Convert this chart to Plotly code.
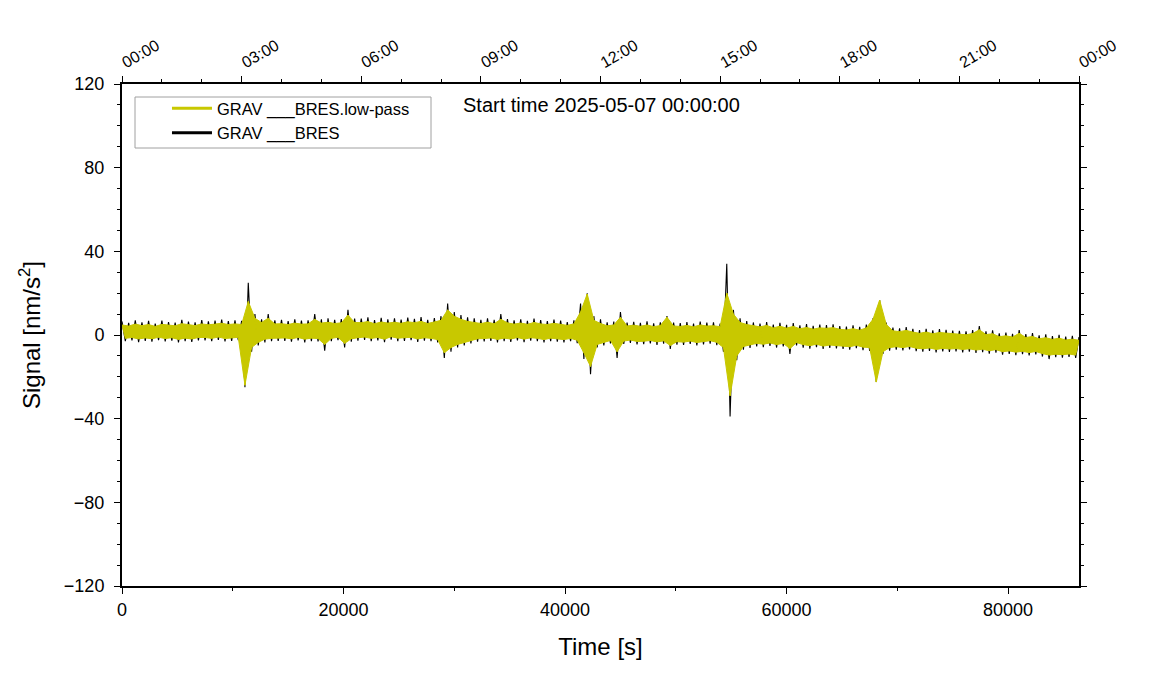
import plotly.graph_objects as go

# ---------------- data ----------------
sample_step_s = 300  # seconds between readings

# raw signal GRAV ___BRES, nm/s^2 (alternating upper / lower excursions), one row per hour
raw_bres = [
    6.5, -3.0, 5.8, -2.6, 7.0, -3.4, 6.0, -2.8, 6.8, -3.2, 5.5, -2.5,
    6.9, -3.1, 6.2, -2.7, 5.9, -3.6, 7.2, -2.9, 6.4, -3.3, 6.0, -2.6,
    7.1, -2.6, 6.5, -3.0, 6.9, -2.4, 7.4, -3.1, 6.6, -2.8, 7.0, -2.5,
    6.8, -25.0, 25.0, -8.0, 10.0, -5.0, 7.5, -3.5, 10.0, -3.0, 7.0, -2.8,
    7.2, -2.8, 6.6, -3.2, 7.5, -2.6, 6.9, -3.5, 7.0, -2.9, 10.0, -3.1,
    7.5, -7.5, 8.0, -3.0, 7.2, -2.5, 7.6, -6.0, 12.0, -3.2, 7.9, -2.7,
    7.8, -2.4, 8.5, -3.0, 7.1, -2.6, 8.2, -3.4, 7.5, -2.2, 8.0, -2.9,
    7.4, -2.8, 8.3, -2.5, 7.7, -3.3, 8.6, -2.7, 7.3, -3.0, 8.1, -3.6,
    9.0, -11.0, 15.0, -8.0, 11.0, -6.0, 9.5, -5.0, 8.5, -4.0, 8.0, -3.2,
    7.3, -3.1, 8.0, -2.8, 7.2, -3.5, 10.0, -2.9, 7.6, -3.3, 7.0, -2.6,
    7.5, -3.4, 6.8, -2.7, 7.9, -3.0, 7.1, -3.6, 6.7, -2.9, 7.4, -3.2,
    6.9, -3.6, 6.2, -3.0, 7.0, -3.9, 15.0, -11.5, 20.0, -18.7, 9.0, -6.0,
    7.5, -5.0, 6.0, -4.0, 6.4, -11.0, 11.0, -4.3, 5.9, -3.8, 6.3, -4.5,
    5.8, -4.4, 6.5, -4.0, 5.6, -4.7, 6.1, -4.2, 9.0, -6.7, 5.9, -4.6,
    5.7, -4.8, 6.2, -4.3, 5.5, -5.0, 6.4, -4.5, 5.9, -4.1, 6.0, -4.9,
    5.5, -8.0, 34.0, -39.0, 12.0, -12.0, 8.0, -7.0, 6.7, -6.2, 6.0, -5.5,
    5.5, -5.8, 6.2, -5.2, 5.0, -6.0, 5.8, -5.4, 4.9, -9.0, 5.7, -5.0,
    4.6, -6.0, 5.2, -6.5, 4.4, -5.8, 5.0, -6.7, 4.8, -6.2, 5.1, -6.4,
    4.3, -6.6, 4.0, -7.0, 4.6, -6.3, 3.9, -7.2, 5.0, -7.6, 8.0, -22.5,
    16.7, -9.0, 6.0, -7.5, 3.6, -7.0, 3.2, -7.4, 3.8, -6.9, 3.0, -7.7,
    2.4, -8.0, 3.0, -7.6, 2.2, -8.3, 2.8, -7.8, 2.5, -8.1, 2.1, -7.9,
    2.0, -8.3, 1.7, -8.0, 2.3, -8.6, 4.3, -8.2, 1.8, -8.9, 2.2, -8.4,
    0.8, -9.4, 1.2, -9.0, 0.6, -9.6, 2.4, -9.2, 0.4, -9.8, 0.9, -9.3,
    -0.2, -10.3, 0.3, -11.5, -0.5, -10.6, 0.1, -10.8, -0.8, -10.5, -0.4, -11.0,
    -1.0,
]

# low-pass filtered signal GRAV ___BRES.low-pass, nm/s^2 (alternating upper / lower)
lowpass_bres = [
    4.8, -1.6, 4.3, -1.2, 5.2, -1.9, 4.5, -1.4, 5.0, -1.8, 4.1, -1.1,
    5.1, -1.7, 4.6, -1.3, 4.4, -2.1, 5.4, -1.5, 4.8, -1.9, 4.5, -1.2,
    5.3, -1.2, 4.9, -1.6, 5.2, -1.0, 5.6, -1.7, 5.0, -1.4, 5.3, -1.1,
    5.0, -24.0, 16.0, -6.0, 8.0, -3.5, 6.0, -2.0, 8.0, -1.6, 5.3, -1.4,
    5.4, -1.4, 5.0, -1.8, 5.7, -1.2, 5.2, -2.0, 5.3, -1.5, 7.5, -1.7,
    5.7, -4.5, 6.1, -1.6, 5.5, -1.1, 5.8, -4.0, 9.5, -1.8, 6.0, -1.3,
    5.9, -1.0, 6.4, -1.6, 5.4, -1.2, 6.2, -2.0, 5.7, -0.8, 6.1, -1.5,
    5.6, -1.4, 6.3, -1.1, 5.9, -1.9, 6.5, -1.3, 5.5, -1.6, 6.2, -2.2,
    7.0, -8.5, 12.0, -6.0, 9.0, -4.5, 7.5, -3.5, 6.5, -2.6, 6.0, -1.8,
    5.5, -1.7, 6.1, -1.4, 5.4, -2.1, 7.5, -1.5, 5.8, -1.9, 5.2, -1.2,
    5.7, -2.0, 5.1, -1.3, 6.0, -1.6, 5.3, -2.2, 5.0, -1.5, 5.6, -1.8,
    5.2, -2.2, 4.6, -1.6, 5.3, -2.5, 11.0, -8.5, 19.6, -15.0, 7.0, -4.5,
    5.5, -3.5, 4.4, -2.6, 4.8, -8.0, 8.5, -2.9, 4.3, -2.4, 4.7, -3.1,
    4.2, -3.0, 4.8, -2.6, 4.0, -3.3, 4.5, -2.8, 8.5, -5.0, 4.3, -3.2,
    4.1, -3.4, 4.6, -2.9, 3.9, -3.6, 4.8, -3.1, 4.3, -2.7, 4.4, -3.5,
    4.0, -6.0, 20.0, -29.0, 10.0, -10.0, 6.0, -5.5, 5.0, -4.8, 4.4, -4.0,
    3.9, -4.4, 4.6, -3.8, 3.4, -4.6, 4.2, -4.0, 3.3, -6.5, 4.1, -3.6,
    3.0, -4.6, 3.6, -5.1, 2.8, -4.4, 3.4, -5.3, 3.2, -4.8, 3.5, -5.0,
    2.7, -5.2, 2.4, -5.6, 3.0, -4.9, 2.3, -5.8, 3.4, -6.0, 7.5, -22.5,
    16.7, -8.0, 5.0, -6.0, 2.0, -5.6, 1.6, -6.0, 2.2, -5.5, 1.4, -6.3,
    0.8, -6.6, 1.4, -6.2, 0.6, -6.9, 1.2, -6.4, 0.9, -6.7, 0.5, -6.5,
    0.4, -6.9, 0.1, -6.6, 0.7, -7.2, 2.5, -6.8, 0.2, -7.5, 0.6, -7.0,
    -0.8, -8.0, -0.4, -7.6, -1.0, -8.2, 0.8, -7.8, -1.2, -8.4, -0.7, -7.9,
    -1.8, -8.9, -1.3, -9.6, -2.1, -9.2, -1.5, -9.4, -2.4, -9.1, -2.0, -9.6,
    -2.5,
]

x_ticks = [0, 20000, 40000, 60000, 80000]
y_ticks = [-120, -80, -40, 0, 40, 80, 120]
clock_tick_s = [0, 10800, 21600, 32400, 43200, 54000, 64800, 75600, 86400]
clock_labels = ["00:00", "03:00", "06:00", "09:00", "12:00", "15:00", "18:00", "21:00", "00:00"]
series_names = ["GRAV ___BRES", "GRAV ___BRES.low-pass"]
start_label = "Start time 2025-05-07 00:00:00"

# ---------------- figure ----------------
times_raw = [k * sample_step_s for k in range(len(raw_bres))]
times_lp = [k * sample_step_s for k in range(len(lowpass_bres))]
# upper / lower excursions of the low-pass trace (even / odd readings)
lp_up_t, lp_up_v = times_lp[0::2], lowpass_bres[0::2]
lp_lo_t, lp_lo_v = times_lp[1::2], lowpass_bres[1::2]

FONT = "Liberation Sans, Arial, Helvetica, sans-serif"
BLACK = "#000000"
YELLOW = "#c8c800"

fig = go.Figure()
fig.add_trace(go.Scatter(x=times_raw, y=raw_bres, mode="lines",
                         line=dict(color=BLACK, width=1.1), showlegend=False,
                         name=series_names[0]))
fig.add_trace(go.Scatter(x=lp_lo_t, y=lp_lo_v, mode="lines",
                         line=dict(color=YELLOW, width=1), showlegend=False,
                         name=series_names[1]))
fig.add_trace(go.Scatter(x=lp_up_t, y=lp_up_v, mode="lines", fill="tonexty",
                         fillcolor=YELLOW, line=dict(color=YELLOW, width=1),
                         showlegend=False, name=series_names[1]))
fig.add_trace(go.Scatter(x=times_lp, y=lowpass_bres, mode="lines",
                         line=dict(color=YELLOW, width=1), showlegend=False,
                         name=series_names[1]))
# legend entries (thicker sample lines)
fig.add_trace(go.Scatter(x=[None], y=[None], mode="lines",
                         line=dict(color=YELLOW, width=3), name=series_names[1]))
fig.add_trace(go.Scatter(x=[None], y=[None], mode="lines",
                         line=dict(color=BLACK, width=3), name=series_names[0]))
# empty trace on the top (clock) axis so it renders
fig.add_trace(go.Scatter(x=[0, 86400], y=[None, None], xaxis="x2", showlegend=False,
                         hoverinfo="skip"))

fig.update_layout(
    width=1151, height=700,
    margin=dict(l=114, r=80, t=76, b=122),
    paper_bgcolor="white", plot_bgcolor="white",
    font=dict(family=FONT, size=18, color="black"),
    xaxis=dict(range=[0, 86400], tickvals=x_ticks, ticktext=[str(v) for v in x_ticks],
               ticks="outside", ticklen=6,
               tickwidth=1, tickcolor="black", showline=True, linecolor="black",
               linewidth=2, mirror=False, showgrid=False, zeroline=False,
               minor=dict(dtick=10000, tick0=0, ticks="outside", ticklen=3, tickcolor="black"),
               title=dict(text="Time [s]", font=dict(size=24), standoff=20),
               tickfont=dict(size=18)),
    xaxis2=dict(range=[0, 86400], overlaying="x", side="top", tickvals=clock_tick_s,
                ticktext=clock_labels, tickangle=-30, ticks="outside", ticklen=6,
                tickcolor="black", showline=True, linecolor="black", linewidth=2,
                showgrid=False, zeroline=False,
                minor=dict(dtick=3600, tick0=0, ticks="outside", ticklen=3, tickcolor="black"),
                tickfont=dict(size=16)),
    yaxis=dict(range=[-120, 120], tickvals=y_ticks, ticks="outside", ticklen=6,
               tickcolor="black", showline=True, linecolor="black", linewidth=2,
               mirror="ticks", showgrid=False, zeroline=False, ticklabelstandoff=6,
               minor=dict(dtick=10, tick0=0, ticks="outside", ticklen=3, tickcolor="black"),
               title=dict(text="Signal [nm/s<sup>2</sup>]", font=dict(size=24), standoff=16),
               tickfont=dict(size=18)),
    legend=dict(x=0.047, y=0.986, xanchor="left", yanchor="top", traceorder="normal",
                bgcolor="rgba(0,0,0,0)", borderwidth=0,
                font=dict(size=16.5), tracegroupgap=0, itemwidth=40),
    shapes=[dict(type="rect", xref="paper", yref="paper",
                 x0=(134 - 121) / 957, x1=(430 - 121) / 957,
                 y0=(585 - 147) / 502, y1=(585 - 96) / 502,
                 line=dict(color="#a0a0a0", width=1), fillcolor="white", layer="below")],
    annotations=[dict(text=start_label, xref="paper", yref="paper",
                      x=(460 - 121) / 957, y=(585 - 104) / 502, xanchor="left",
                      yanchor="middle", showarrow=False, font=dict(size=20))],
)

fig.write_html("out.html")
